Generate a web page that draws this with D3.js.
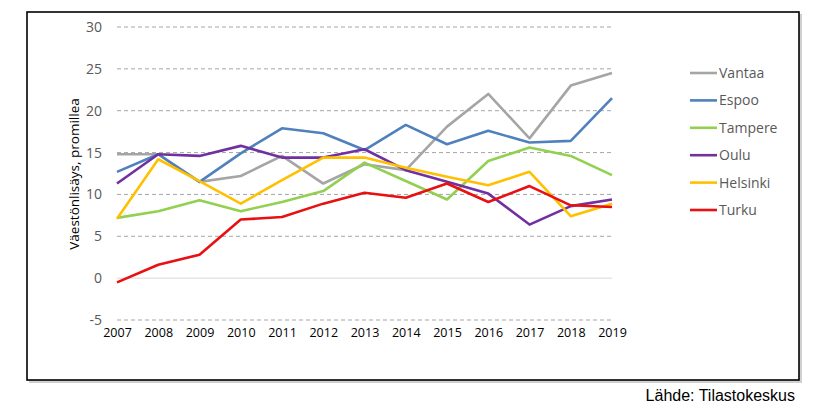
<!DOCTYPE html>
<html><head><meta charset="utf-8">
<script src="https://cdn.jsdelivr.net/npm/d3@7"></script>
<style>html,body{margin:0;padding:0;background:#fff;}</style>
</head><body>
<svg id="c" width="830" height="411"></svg>
<script>
const years = [2007,2008,2009,2010,2011,2012,2013,2014,2015,2016,2017,2018,2019];
const yTicks = [-5,0,5,10,15,20,25,30];
const cities = ["Vantaa","Espoo","Tampere","Oulu","Helsinki","Turku"];
const colors = ["#a5a5a5","#4f81bd","#92d050","#7030a0","#ffc000","#e81010"];
const vantaa   = [14.8,14.8,11.5,12.2,14.6,11.3,13.6,12.9,18.1,22.0,16.7,23.0,24.5];
const espoo    = [12.7,14.8,11.5,14.9,17.9,17.3,15.3,18.3,16.0,17.6,16.2,16.4,21.5];
const tampere  = [7.2,8.0,9.3,8.0,9.1,10.4,13.8,11.6,9.4,14.0,15.6,14.6,12.3];
const oulu     = [11.3,14.8,14.6,15.8,14.4,14.4,15.4,12.9,11.5,10.1,6.4,8.6,9.4];
const helsinki = [7.1,14.2,11.6,8.9,11.7,14.4,14.4,13.2,12.1,11.1,12.7,7.4,8.9];
const turku    = [-0.5,1.6,2.8,7.0,7.3,8.9,10.2,9.6,11.3,9.1,11.0,8.7,8.5];
const seriesValues = [vantaa,espoo,tampere,oulu,helsinki,turku];

const svg = d3.select("#c");
const font = "'Open Sans', 'Liberation Sans', sans-serif";
// frame with shadow
svg.append("rect").attr("x",29).attr("y",14).attr("width",773).attr("height",369).attr("fill","#d0d0d0");
svg.append("rect").attr("x",27).attr("y",12).attr("width",772).attr("height",368)
  .attr("fill","#fff").attr("stroke","#000").attr("stroke-width",1.6);

const x = d3.scalePoint().domain(years).range([117,612]);
const y = d3.scaleLinear().domain([-5,30]).range([320,27]);

// grid
svg.append("g").selectAll("line").data(yTicks).join("line")
  .attr("x1",117).attr("x2",612)
  .attr("y1",d=>y(d)).attr("y2",d=>y(d))
  .attr("stroke", d=> d===0 ? "#d9d9d9" : "#a6a6a6")
  .attr("stroke-width",1)
  .attr("stroke-dasharray", d=> d===0 ? null : "4,3");

// y axis
const yAxis = d3.axisLeft(y).tickValues(yTicks).tickSize(0).tickPadding(0).tickFormat(d=>String(d));
const gy = svg.append("g").attr("transform","translate(102,0)").call(yAxis);
gy.select(".domain").remove();
gy.selectAll("text").attr("font-family",font).attr("font-size",14).attr("fill","#595959");

// x axis
const xAxis = d3.axisBottom(x).tickSize(0).tickPadding(0).tickFormat(d=>String(d));
const gx = svg.append("g").attr("transform","translate(0,328)").call(xAxis);
gx.select(".domain").remove();
gx.selectAll("text").attr("font-family",font).attr("font-size",12.5).attr("fill","#000");

// y title
svg.append("text").attr("transform","translate(79,174) rotate(-90)")
  .attr("text-anchor","middle").attr("font-family",font)
  .attr("font-size",13.5).attr("fill","#000").text("Väestönlisäys, promillea");

// lines
const line = d3.line().x((d,i)=>x(years[i])).y(d=>y(d));
seriesValues.forEach((vals,k)=>{
  svg.append("path").datum(vals).attr("d",line).attr("fill","none")
    .attr("stroke",colors[k]).attr("stroke-width",2.6).attr("stroke-linejoin","round");
});

// legend
const leg = svg.append("g");
cities.forEach((c,k)=>{
  const ly = 73 + k*27.4;
  leg.append("line").attr("x1",690).attr("x2",717).attr("y1",ly).attr("y2",ly)
    .attr("stroke",colors[k]).attr("stroke-width",2.6);
  leg.append("text").attr("x",719).attr("y",ly).attr("dy","0.35em")
    .attr("font-family",font).attr("font-size",14)
    .attr("fill","#595959").text(c);
});

// source
svg.append("text").attr("x",795).attr("y",401).attr("text-anchor","end")
  .attr("font-family","'Liberation Sans', Arial, sans-serif").attr("font-size",16)
  .attr("fill","#000").text("Lähde: Tilastokeskus");
</script>
</body></html>
